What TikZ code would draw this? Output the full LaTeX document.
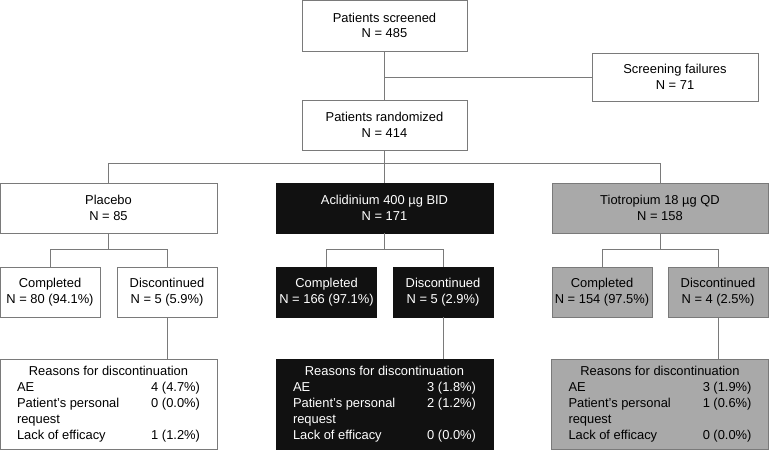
\documentclass[tikz,border=0pt]{standalone}
\usepackage{fontspec}
\setmainfont{Liberation Sans}
\usepackage{array}
\definecolor{boxgray}{HTML}{A9A9A9}
\definecolor{linegray}{HTML}{7A7A7A}
\definecolor{boxblack}{HTML}{111111}

\newcommand{\reasons}[3]{%
  \begin{tabular*}{183pt}{@{}>{\raggedright\arraybackslash}p{112pt}@{\extracolsep{\fill}}r@{}}
    \multicolumn{2}{@{}c@{}}{Reasons for discontinuation}\\
    AE & #1\\
    Patient’s personal request & #2\\
    Lack of efficacy & #3
  \end{tabular*}}

\begin{document}
\begin{tikzpicture}[x=1pt, y=-1pt]

% --- Global TikZ Styles for Consistency ---
\tikzset{
    box/.style={draw=linegray, fill=white, line width=0.8pt, align=center,
        font=\fontsize{12.9}{15.5}\selectfont, inner sep=0pt},
    armbox/.style={box, minimum width=217pt, minimum height=50pt},
    subbox/.style={box, minimum width=100pt, minimum height=50pt},
    reasonbox/.style={box, minimum width=217pt, minimum height=90pt,
        font=\fontsize{12.9}{16}\selectfont},
    darkbox/.style={fill=boxblack, draw=boxblack, text=white},
    graybox/.style={fill=boxgray, draw=linegray},
    link/.style={draw=linegray, line width=0.8pt}
}

\useasboundingbox (0,0) rectangle (769,450);

% Screening
\node[box, minimum width=165pt, minimum height=51pt] (screened) at (384.5,25.5)
    {Patients screened\\N = 485};
\node[box, minimum width=166pt, minimum height=48pt] (failures) at (675,77)
    {Screening failures\\N = 71};
\node[box, minimum width=165pt, minimum height=50pt] (randomized) at (384.5,125)
    {Patients randomized\\N = 414};

% Treatment arms
\node[armbox] (placebo) at (108.5,208) {Placebo\\N = 85};
\node[armbox, darkbox] (acli) at (384.5,208) {Aclidinium 400 µg BID\\N = 171};
\node[armbox, graybox, minimum width=216pt] (tio) at (660,208) {Tiotropium 18 µg QD\\N = 158};

% Completed / discontinued: placebo
\node[subbox] (plaComp) at (50,292) {Completed\\N = 80 (94.1\%)};
\node[subbox] (plaDisc) at (167,292) {Discontinued\\N = 5 (5.9\%)};

% Completed / discontinued: aclidinium
\node[subbox, darkbox] (aclComp) at (326.5,292) {Completed\\N = 166 (97.1\%)};
\node[subbox, darkbox] (aclDisc) at (443,292) {Discontinued\\N = 5 (2.9\%)};

% Completed / discontinued: tiotropium
\node[subbox, graybox] (tioComp) at (602,292) {Completed\\N = 154 (97.5\%)};
\node[subbox, graybox] (tioDisc) at (718,292) {Discontinued\\N = 4 (2.5\%)};

% Reasons for discontinuation
\node[reasonbox] (plaWhy) at (108.5,404) {\reasons{4 (4.7\%)}{0 (0.0\%)}{1 (1.2\%)}};
\node[reasonbox, darkbox] (aclWhy) at (384.5,404) {\reasons{3 (1.8\%)}{2 (1.2\%)}{0 (0.0\%)}};
\node[reasonbox, graybox] (tioWhy) at (660,404) {\reasons{3 (1.9\%)}{1 (0.6\%)}{0 (0.0\%)}};

% Connectors: screening to randomization
\draw[link] (screened.south) -- (randomized.north);
\draw[link] (screened.south |- failures.west) -- (failures.west);

% Connectors: randomization to arms
\draw[link] (randomized.south) -- ++(0,13) coordinate (split);
\draw[link] (placebo.north) |- (split) -| (tio.north);
\draw[link] (split) -- (acli.north);

% Connectors: arms to outcomes
\draw[link] (placebo.south) -- ++(0,16) coordinate (plaSplit);
\draw[link] (plaComp.north) |- (plaSplit) -| (plaDisc.north);
\draw[link] (acli.south) -- ++(0,16) coordinate (aclSplit);
\draw[link] (aclComp.north) |- (aclSplit) -| (aclDisc.north);
\draw[link] (tio.south) -- ++(0,16) coordinate (tioSplit);
\draw[link] (tioComp.north) |- (tioSplit) -| (tioDisc.north);

% Connectors: discontinued to reasons
\draw[link] (plaDisc.south) -- (plaDisc.south |- plaWhy.north);
\draw[link] (aclDisc.south) -- (aclDisc.south |- aclWhy.north);
\draw[link] (tioDisc.south) -- (tioDisc.south |- tioWhy.north);

\end{tikzpicture}
\end{document}
